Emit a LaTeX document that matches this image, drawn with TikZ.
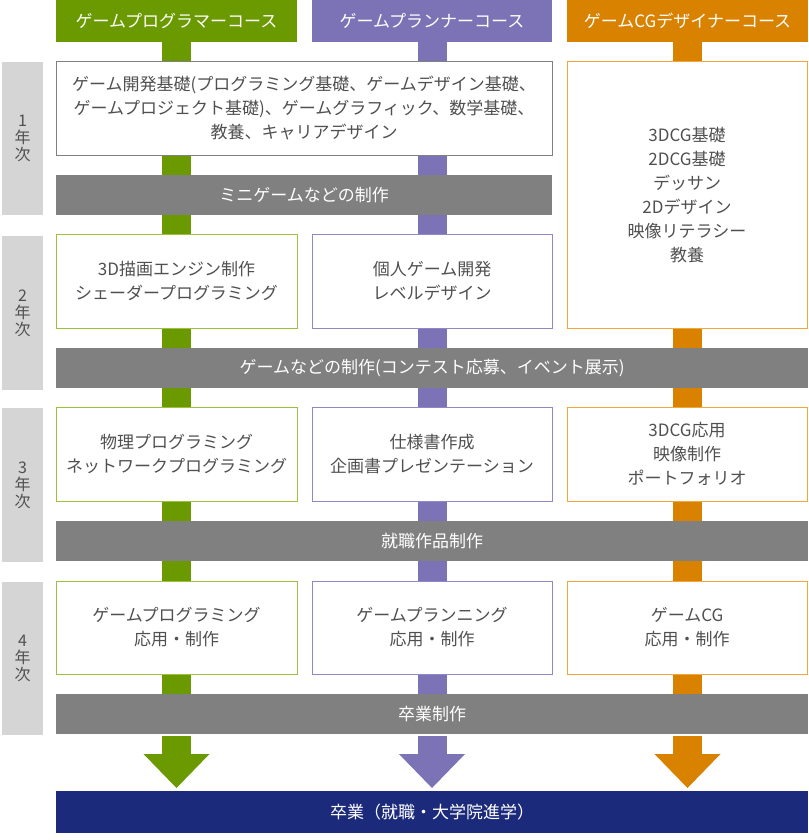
\documentclass[tikz,border=0pt]{standalone}
\usepackage{fontspec}
\setmainfont{Noto Sans CJK JP}
\usetikzlibrary{backgrounds,calc}
\definecolor{cgreen}{HTML}{6B9A00}
\definecolor{cgreenl}{HTML}{9CC13F}
\definecolor{cpurple}{HTML}{7B73B5}
\definecolor{cpurplel}{HTML}{8E88C8}
\definecolor{corange}{HTML}{D98200}
\definecolor{corangel}{HTML}{F0A83C}
\definecolor{cbar}{HTML}{808080}
\definecolor{cyear}{HTML}{D5D5D5}
\definecolor{cnavy}{HTML}{1B2A7B}
\definecolor{ctext}{HTML}{505050}
\tikzset{
  base/.style={rectangle, inner sep=0pt, outer sep=0pt, align=center,
    font=\fontsize{17}{24}\selectfont},
  hdr/.style={base, text=white, minimum height=42pt},
  cbox/.style={base, fill=white, draw=#1, line width=1pt, text=ctext, minimum height=93pt},
  gbar/.style={base, fill=cbar, text=white, minimum height=40pt},
  yearbox/.style={base, fill=cyear, text=ctext, minimum width=41pt,
    font=\fontsize{16}{17}\selectfont},
  stub/.style={line width=29pt, draw=#1},
  ahead/.style={fill=#1},
}
\begin{document}
\begin{tikzpicture}[x=1pt,y=-1pt]
\useasboundingbox (0,0) rectangle (808,840);
% headers
\node[hdr, fill=cgreen, minimum width=241pt] (h1) at (176.5,21) {ゲームプログラマーコース};
\node[hdr, fill=cpurple, minimum width=240pt] (h2) at (432,21) {ゲームプランナーコース};
\node[hdr, fill=corange, minimum width=241pt] (h3) at (687.5,21) {ゲームCGデザイナーコース};
% year labels
\node[yearbox, minimum height=153pt] (y1) at (22.5,138.5) {1\\年\\次};
\node[yearbox, minimum height=154pt] (y2) at (22.5,313) {2\\年\\次};
\node[yearbox, minimum height=154pt] (y3) at (22.5,485) {3\\年\\次};
\node[yearbox, minimum height=153pt] (y4) at (22.5,658.5) {4\\年\\次};
% row 1
\node[cbox=cbar, minimum width=496pt] (r1a) at (304,108.5) {ゲーム開発基礎(プログラミング基礎、ゲームデザイン基礎、\\ゲームプロジェクト基礎)、ゲームグラフィック、数学基礎、\\教養、キャリアデザイン};
\node[cbox=corangel, minimum width=240pt, minimum height=266pt] (r1c) at (687,195) {3DCG基礎\\2DCG基礎\\デッサン\\2Dデザイン\\映像リテラシー\\教養};
\node[gbar, minimum width=496pt] (b1) at (304,195) {ミニゲームなどの制作};
% row 2
\node[cbox=cgreenl, minimum width=241pt, minimum height=94pt] (r2a) at (176.5,281) {3D描画エンジン制作\\シェーダープログラミング};
\node[cbox=cpurplel, minimum width=240pt, minimum height=94pt] (r2b) at (432,281) {個人ゲーム開発\\レベルデザイン};
\node[gbar, minimum width=752pt] (b2) at (432,368) {ゲームなどの制作(コンテスト応募、イベント展示)};
% row 3
\node[cbox=cgreenl, minimum width=241pt, minimum height=94pt] (r3a) at (176.5,454) {物理プログラミング\\ネットワークプログラミング};
\node[cbox=cpurplel, minimum width=240pt, minimum height=94pt] (r3b) at (432,454) {仕様書作成\\企画書プレゼンテーション};
\node[cbox=corangel, minimum width=240pt, minimum height=94pt] (r3c) at (687,454) {3DCG応用\\映像制作\\ポートフォリオ};
\node[gbar, minimum width=752pt] (b3) at (432,541) {就職作品制作};
% row 4
\node[cbox=cgreenl, minimum width=241pt] (r4a) at (176.5,627.5) {ゲームプログラミング\\応用・制作};
\node[cbox=cpurplel, minimum width=240pt] (r4b) at (432,627.5) {ゲームプランニング\\応用・制作};
\node[cbox=corangel, minimum width=240pt] (r4c) at (687,627.5) {ゲームCG\\応用・制作};
\node[gbar, minimum width=752pt] (b4) at (432,714) {卒業制作};
% graduation
\node[base, fill=cnavy, text=white, minimum width=752pt, minimum height=42pt] (grad) at (432,812) {卒業（就職・大学院進学）};
% arrow ends
\coordinate (e1) at (176.5,754);
\coordinate (e2) at (432,754);
\coordinate (e3) at (687.5,754);
\begin{scope}[on background layer]
\draw[stub=cgreen] (h1.south) -- (e1);
\draw[stub=cpurple] (h2.south) -- (e2);
\draw[stub=corange] (h3.south) -- (e3);
\end{scope}
\fill[white] (b4.south west) rectangle ($(b4.south east)+(0,2)$);
\fill[ahead=cgreen] ($(e1)+(-33,0)$) -- ($(e1)+(33,0)$) -- ($(e1)+(0,34)$) -- cycle;
\fill[ahead=cpurple] ($(e2)+(-33,0)$) -- ($(e2)+(33,0)$) -- ($(e2)+(0,34)$) -- cycle;
\fill[ahead=corange] ($(e3)+(-33,0)$) -- ($(e3)+(33,0)$) -- ($(e3)+(0,34)$) -- cycle;
\end{tikzpicture}
\end{document}
